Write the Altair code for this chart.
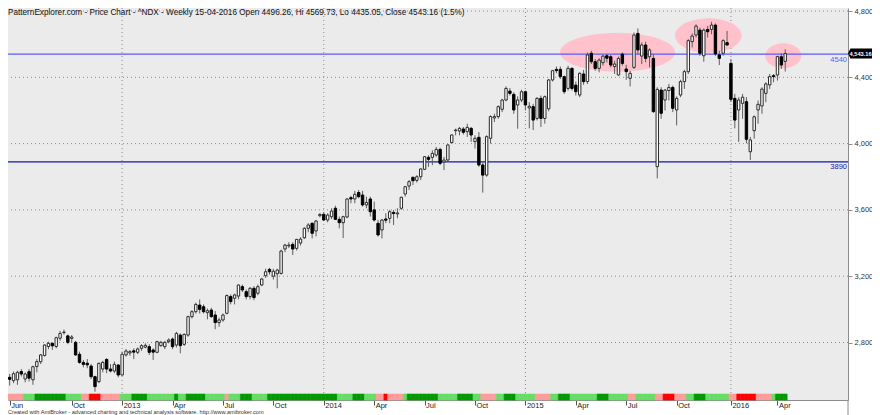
import math
import altair as alt
import pandas as pd

# ---------------- data ----------------
opens = [2590,2570,2575,2625,2580,2624,2575,2655,2684,2722,2776,2795,2776,2826,2860,2840,2825,2801,2729,2680,
         2675,2658,2594,2564,2640,2698,2640,2628,2664,2604,2725,2737,2750,2741,2765,2772,2775,2755,2741,2781,
         2775,2805,2821,2785,2845,2789,2845,2956,2986,3026,3016,2980,2996,2966,2920,2936,2976,3077,3067,3080,
         3137,3107,3077,3127,3097,3147,3203,3241,3200,3215,3217,3364,3383,3392,3368,3400,3432,3489,3519,3473,
         3565,3573,3539,3559,3610,3543,3523,3557,3674,3666,3705,3690,3630,3666,3600,3519,3479,3545,3549,3585,
         3576,3610,3696,3744,3797,3778,3800,3845,3917,3917,3931,3965,3889,3901,4006,4078,4076,4088,4072,4092,
         4012,4038,3871,3810,4032,4155,4163,4207,4263,4317,4297,4233,4263,4313,4215,4223,4152,4273,4152,4210,
         4384,4448,4448,4404,4333,4454,4353,4293,4420,4374,4545,4494,4454,4488,4530,4524,4465,4414,4540,4450,
         4394,4460,4665,4528,4595,4524,4514,3861,4323,4263,4320,4339,4203,4293,4374,4434,4615,4655,4685,4530,
         4689,4689,4715,4535,4545,4609,4484,4273,4203,4243,4253,3951,4078,4203,4227,4303,4354,4410,4414,4524,
         4496.26]
highs = [2610,2625,2630,2640,2620,2640,2660,2700,2730,2790,2805,2800,2835,2870,2878,2848,2845,2810,2745,2695,
         2700,2670,2600,2680,2690,2705,2670,2685,2670,2745,2760,2755,2765,2770,2790,2795,2790,2765,2810,2810,
         2810,2825,2830,2865,2855,2855,2962,2995,3040,3060,3030,3005,3010,2990,2950,2975,3090,3090,3095,3150,
         3150,3120,3135,3140,3150,3190,3245,3250,3245,3245,3360,3395,3405,3405,3425,3435,3495,3520,3525,3540,
         3580,3585,3580,3610,3625,3560,3565,3670,3685,3715,3720,3715,3680,3680,3650,3540,3545,3580,3600,3600,
         3610,3680,3745,3780,3800,3810,3850,3925,3930,3960,3980,3975,3920,3995,4055,4090,4100,4100,4120,4100,
         4050,4070,3890,4050,4170,4180,4230,4270,4345,4335,4310,4285,4325,4320,4250,4240,4280,4290,4290,4390,
         4445,4465,4465,4410,4470,4460,4375,4430,4445,4550,4560,4510,4515,4535,4540,4535,4500,4525,4550,4475,
         4440,4670,4695,4610,4615,4575,4540,4340,4340,4330,4360,4350,4285,4385,4445,4630,4665,4720,4700,4695,
         4710,4735,4725,4560,4630,4680,4510,4300,4280,4300,4280,4040,4170,4260,4340,4370,4420,4420,4530,4545,
         4569.73]
lows = [2540,2555,2545,2595,2560,2565,2545,2620,2670,2715,2760,2755,2765,2810,2848,2790,2800,2720,2672,2650,
        2645,2580,2503,2555,2620,2615,2620,2615,2590,2600,2715,2720,2700,2730,2750,2765,2725,2695,2735,2775,
        2760,2795,2760,2770,2735,2780,2835,2945,2975,2975,2975,2940,2950,2880,2895,2925,2970,3030,3030,3060,
        3105,3060,3060,3055,3085,3140,3190,3210,3180,3127,3210,3345,3370,3328,3355,3385,3425,3465,3428,3440,
        3555,3535,3525,3545,3540,3489,3430,3550,3640,3640,3670,3620,3610,3560,3530,3440,3428,3520,3520,3509,
        3550,3600,3680,3720,3750,3765,3780,3840,3860,3870,3920,3870,3840,3895,4000,4050,4050,4055,4040,4010,
        3970,3860,3704,3800,4000,4130,4150,4190,4255,4290,4180,4090,4250,4200,4092,4082,4140,4100,4120,4195,
        4375,4425,4390,4300,4320,4320,4290,4280,4355,4360,4480,4440,4430,4470,4490,4460,4420,4410,4470,4385,
        4345,4450,4540,4480,4490,4460,4185,3790,4150,4200,4260,4190,4110,4280,4330,4420,4580,4640,4530,4494,
        4640,4660,4530,4474,4530,4590,4250,4092,4010,4150,4002,3901,4030,4120,4180,4250,4330,4370,4380,4450,
        4435.05]
closes = [2578,2612,2620,2610,2610,2585,2654,2685,2725,2785,2795,2780,2829,2855,2863,2801,2833,2725,2680,2668,
          2665,2594,2534,2674,2680,2640,2628,2668,2604,2729,2749,2745,2742,2761,2781,2783,2741,2742,2805,2801,
          2801,2815,2775,2855,2781,2849,2956,2986,3030,3000,2986,2992,2956,2920,2936,2966,3083,3047,3087,3147,
          3117,3077,3127,3071,3137,3183,3227,3227,3230,3237,3352,3388,3388,3364,3422,3424,3489,3509,3459,3533,
          3573,3539,3569,3593,3543,3523,3559,3666,3666,3694,3680,3630,3645,3589,3539,3449,3539,3538,3589,3578,
          3582,3676,3740,3770,3776,3800,3847,3921,3905,3941,3965,3881,3901,3992,4052,4082,4092,4068,4098,4052,
          4032,3871,3810,4042,4163,4163,4223,4263,4333,4303,4203,4263,4313,4233,4225,4142,4273,4152,4283,4384,
          4440,4440,4404,4313,4454,4333,4313,4424,4374,4535,4494,4454,4504,4528,4515,4474,4480,4514,4484,4434,
          4424,4655,4565,4595,4514,4565,4193,4327,4183,4323,4339,4213,4273,4374,4434,4621,4649,4709,4545,4685,
          4675,4715,4541,4514,4621,4595,4267,4142,4263,4280,4026,4022,4162,4237,4329,4360,4404,4404,4525,4474,
          4543.16]

# indicator strip below the candles: (colour code, number of weeks)
strip_runs = [("p",4),("g",3),("G",8),("g",4),("p",2),("r",3),("p",5),("g",3),("G",4),("g",7),("G",1),("g",2),
              ("G",5),("g",5),("p",1),("g",3),("G",3),("g",4),("G",18),("g",4),("G",3),("g",3),("p",2),("r",1),
              ("p",4),("g",1),("G",8),("g",5),("G",4),("g",2),("p",4),("g",2),("G",3),("g",5),("p",4),("g",2),
              ("G",3),("g",7),("G",3),("g",5),("p",2),("g",5),("p",2),("r",3),("p",3),("g",2),("G",3),("g",6),
              ("p",2),("r",5),("p",4),("g",1),("G",3)]
strip_codes = ["p", "g", "G", "r"]
strip_colors = ["#ff9c9c", "#66dd66", "#009a00", "#ff0000"]

tick_idx = [0, 16, 29, 42, 55, 68, 81, 94, 107, 120, 133, 146, 159, 172, 186, 198]
tick_lbl = ["Jun", "Oct", "2013", "Apr", "Jul", "Oct", "2014", "Apr", "Jul", "Oct",
            "2015", "Apr", "Jul", "Oct", "2016", "Apr"]
year_idx = [29, 81, 133, 186]
price_ticks = [2800, 3200, 3600, 4000, 4400, 4800]

levels = [4540, 3890]
level_names = ["4540", "3890"]
level_colors = ["#5a5aff", "#1414b4"]

# highlighted zones (centre week index, centre price, half width px, half height px)
ell_name = ["e1", "e2", "e3"]
ell_i = [156.75, 180.17, 199.5]
ell_v = [4551, 4652, 4530]
ell_rx = [57.5, 33.3, 18.0]
ell_ry = [19.5, 17.2, 12.5]

title_text = ("PatternExplorer.com - Price Chart - ^NDX - Weekly 15-04-2016 Open 4496.26, "
              "Hi 4569.73, Lo 4435.05, Close 4543.16 (1.5%)")
footer_text = ("Created with AmiBroker - advanced charting and technical analysis software. "
               "http://www.amibroker.com")
last_label = "4,543.16"

# ---------------- layout ----------------
W, H = 840, 392
PAD_R = 24          # keeps the whole svg inside the 864px the page leaves
FONT = "Liberation Sans"

xs = alt.Scale(domain=[-0.435, 216.19], nice=False, zero=False, padding=0)
ys = alt.Scale(domain=[2453.2, 4818.1], nice=False, zero=False, padding=0)

df = pd.DataFrame({"i": list(range(len(closes))), "o": opens, "h": highs, "l": lows, "c": closes})
df["d"] = ["up" if c >= o else "dn" for o, c in zip(opens, closes)]

codes = []
for k, n in strip_runs:
    codes += [k] * n
sdf = pd.DataFrame({"i": list(range(len(codes))), "k": codes})
sdf["a"] = sdf["i"] - 0.5
sdf["b"] = sdf["i"] + 0.5

label_expr = "[{}][indexof([{}], datum.value)]".format(
    ",".join("'%s'" % t for t in tick_lbl), ",".join(str(t) for t in tick_idx))

xaxis = alt.Axis(values=tick_idx, labelExpr=label_expr, grid=False, tickSize=5,
                 tickColor="#555555", domainColor="#8c8c8c", labelAlign="left", labelOffset=1,
                 labelBaseline="top", labelPadding=-4, labelFlush=False, labelOverlap=False,
                 labelFont=FONT, labelFontSize=7.5, labelColor="#222222", title=None)
yaxis = alt.Axis(orient="right", values=price_ticks, labelExpr="format(datum.value, ',')",
                 grid=False, tickSize=4, tickColor="#8c8c8c",
                 domainColor="#8c8c8c", labelAlign="left", labelBaseline="middle", labelPadding=2,
                 labelFont=FONT, labelFontSize=7.5, labelColor="#333333", title=None,
                 labelOverlap=False, labelFlush=False)


def X(field):
    return alt.X(field, scale=xs, axis=xaxis)


def Y(field):
    return alt.Y(field, scale=ys, axis=yaxis)


gdf = pd.DataFrame({"v": price_ticks})
h_grid = alt.Chart(gdf).mark_rule(color="#8a8a8a", strokeDash=[1, 3], strokeWidth=1).encode(
    y=Y("v:Q"))

ydf = pd.DataFrame({"i": year_idx})
year_grid = alt.Chart(ydf).mark_rule(color="#8a8a8a", strokeDash=[1, 3], strokeWidth=1).encode(
    x=X("i:Q"), y=alt.value(0), y2=alt.value(386),
)

wicks = alt.Chart(df).mark_rule(color="#5e5e5e", strokeWidth=1).encode(
    x=X("i:Q"), y=Y("l:Q"), y2="h:Q",
)

bodies = alt.Chart(df).mark_bar(size=2.4, strokeWidth=1).encode(
    x=X("i:Q"), y=Y("o:Q"), y2="c:Q",
    fill=alt.Fill("d:N", scale=alt.Scale(domain=["up", "dn"], range=["#ffffff", "#000000"]), legend=None),
    stroke=alt.Stroke("d:N", scale=alt.Scale(domain=["up", "dn"], range=["#2a2a2a", "#000000"]), legend=None),
)

strip = alt.Chart(sdf).mark_rect(strokeWidth=0.6).encode(
    x=X("a:Q"), x2="b:Q",
    y=alt.value(386), y2=alt.value(392),
    fill=alt.Fill("k:N", scale=alt.Scale(domain=strip_codes, range=strip_colors), legend=None),
    stroke=alt.Stroke("k:N", scale=alt.Scale(domain=strip_codes, range=strip_colors), legend=None),
)


def ell_path(k, n=48):
    pts = []
    for j in range(n):
        t = 2 * math.pi * j / n
        pts.append("%.4f,%.4f" % (math.cos(t), k * math.sin(t)))
    return "M" + " L".join(pts) + " Z"


edf = pd.DataFrame({"n": ell_name, "i": ell_i, "v": ell_v,
                    "s": [(2 * r) ** 2 for r in ell_rx]})
ellipses = alt.Chart(edf).mark_point(filled=True, opacity=1, strokeWidth=0, fill="#ffc2cc").encode(
    x=X("i:Q"), y=Y("v:Q"),
    shape=alt.Shape("n:N", scale=alt.Scale(domain=ell_name,
                                           range=[ell_path(ry / rx) for rx, ry in zip(ell_rx, ell_ry)]),
                    legend=None),
    size=alt.Size("s:Q", scale=None),
)

ldf = pd.DataFrame({"v": levels, "n": level_names})
lev_scale = alt.Scale(domain=level_names, range=level_colors)
level_lines = alt.Chart(ldf).mark_rule(strokeWidth=1.3).encode(
    y=Y("v:Q"),
    color=alt.Color("n:N", scale=lev_scale, legend=None),
)
level_text = alt.Chart(ldf).mark_text(align="right", baseline="top", dy=1.5, font=FONT,
                                      fontSize=7.5).encode(
    y=Y("v:Q"),
    x=alt.value(W - 1),
    text="n:N",
    color=alt.Color("n:N", scale=lev_scale, legend=None),
)

tdf = pd.DataFrame({"t": [title_text]})
title = alt.Chart(tdf).mark_text(align="left", baseline="top", font=FONT, fontSize=8.2,
                                 color="#111111").encode(
    x=alt.value(0), y=alt.value(0.5), text="t:N")

fdf = pd.DataFrame({"t": [footer_text]})
footer = alt.Chart(fdf).mark_text(align="left", baseline="middle", font=FONT, fontSize=5.6,
                                  color="#333333").encode(
    x=alt.value(0), y=alt.value(403.5), text="t:N")

axis_ext = alt.Chart(tdf).mark_rule(color="#8c8c8c", strokeWidth=1).encode(
    x=alt.value(W), y=alt.value(H), y2=alt.value(H + 15))

tag_path = "M-1,0 L-0.8,-0.42 L1.2,-0.42 L1.2,0.42 L-0.8,0.42 Z"
pdf = pd.DataFrame({"v": [closes[-1]], "t": [last_label]})
tag = alt.Chart(pdf).mark_point(filled=True, opacity=1, shape=tag_path, size=576,
                                fill="#000000", strokeWidth=0).encode(
    x=alt.value(W + 12), y=Y("v:Q"))
tag_text = alt.Chart(pdf).mark_text(align="left", baseline="middle", font=FONT, fontSize=5.7,
                                    fontWeight="bold", color="#ffffff").encode(
    x=alt.value(W + 1.5), y=Y("v:Q"), text="t:N")

chart = alt.layer(
    h_grid, year_grid, ellipses, level_lines, wicks, bodies, strip, level_text, title, footer,
    axis_ext, tag, tag_text,
).resolve_scale(
    fill="independent", stroke="independent", color="independent"
).properties(
    width=W, height=H,
    padding={"left": 0, "top": 0, "right": PAD_R, "bottom": 15},
    autosize=alt.AutoSizeParams(type="none"),
    background="#ffffff",
).configure_view(fill="#ebebeb", stroke=None)

chart.save("out.html", embed_options={"renderer": "svg", "actions": False})
